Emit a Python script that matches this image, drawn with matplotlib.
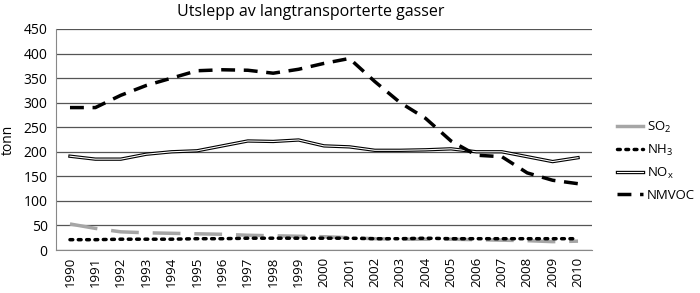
import matplotlib
matplotlib.use("Agg")
import matplotlib.pyplot as plt
from matplotlib.lines import Line2D
from matplotlib.legend_handler import HandlerBase

plt.rcParams['font.family'] = ['Open Sans', 'DejaVu Sans']

years = [str(y) for y in range(1990, 2011)]
so2 = [53, 44, 37, 35, 34, 33, 32, 30, 29, 28, 27, 25, 23, 22, 22, 22, 21, 20, 19, 17, 18]
nh3 = [21, 21, 22, 22, 22, 23, 23, 24, 24, 24, 24, 24, 23, 23, 24, 23, 23, 23, 23, 23, 23]
nox = [191, 185, 185, 195, 200, 202, 212, 222, 221, 224, 212, 210, 203, 203, 204, 206, 200, 200, 190, 180, 188]
nmvoc = [290, 290, 315, 335, 350, 365, 367, 366, 360, 368, 380, 390, 343, 300, 268, 222, 193, 190, 157, 142, 135]

fig = plt.figure(figsize=(7.0, 2.93), dpi=100)
ax = fig.add_axes([56/700, 1-250/293, (592-56)/700, (250-29)/293])

x = list(range(len(years)))
ax.set_ylim(0, 450)
ax.set_xlim(-0.55, len(years) - 0.45)
ax.set_yticks(range(0, 451, 50))
ax.yaxis.grid(True, color='#555555', linewidth=0.9)
ax.set_axisbelow(True)

ax.plot(x, so2, color='#a6a6a6', linewidth=2.5, dashes=(8, 4), solid_capstyle='butt')
ax.plot(x, nh3, color='black', linewidth=2.5, dashes=(0.8, 1.6), dash_capstyle='round')
ax.plot(x, nox, color='black', linewidth=2.4)
ax.plot(x, nox, color='white', linewidth=0.8)
ax.plot(x, nmvoc, color='black', linewidth=2.5, dashes=(4, 2.5))

ax.set_xticks(x)
ax.set_xticklabels(years, rotation=90, fontsize=9.5)
ax.tick_params(axis='y', labelsize=10, length=0, pad=6)
ax.tick_params(axis='x', length=0, pad=5)
for s in ['top', 'right']:
    ax.spines[s].set_visible(False)
ax.spines['left'].set_color('#888888')
ax.spines['bottom'].set_color('#888888')
ax.set_ylabel('tonn', fontsize=10, labelpad=6)
ax.set_title('Utslepp av langtransporterte gasser', fontsize=11.5, pad=9, x=0.475)


class DoubleHandler(HandlerBase):
    def create_artists(self, legend, orig_handle, xdescent, ydescent, width, height, fontsize, trans):
        y = height / 2 - ydescent
        l1 = Line2D([-xdescent, width - xdescent], [y, y], color='black', linewidth=2.4, transform=trans)
        l2 = Line2D([-xdescent, width - xdescent], [y, y], color='white', linewidth=0.8, transform=trans)
        return [l1, l2]


h_so2 = Line2D([], [], color='#a6a6a6', linewidth=2.5)
h_nh3 = Line2D([], [], color='black', linewidth=2.5, dashes=(0.8, 1.6), dash_capstyle='round')
h_nox = Line2D([], [], color='black')
h_nmvoc = Line2D([], [], color='black', linewidth=2.5, dashes=(4, 2.5))

fig.legend([h_so2, h_nh3, h_nox, h_nmvoc],
           [r'$\mathregular{SO_2}$', r'$\mathregular{NH_3}$', r'$\mathregular{NO_x}$', 'NMVOC'],
           handler_map={h_nox: DoubleHandler()},
           loc='center left', bbox_to_anchor=(610/700, 1-161/293),
           frameon=False, fontsize=9.5, handlelength=2.0, handletextpad=0.3,
           labelspacing=0.6, borderpad=0)

fig.savefig('out.png', dpi=100)
